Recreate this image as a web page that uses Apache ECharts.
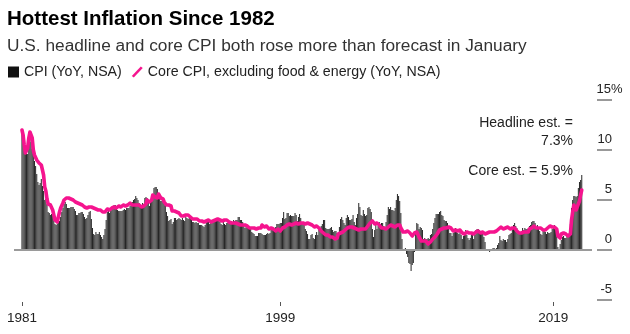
<!DOCTYPE html>
<html>
<head>
<meta charset="utf-8">
<title>Hottest Inflation Since 1982</title>
<script src="https://cdn.jsdelivr.net/npm/echarts@6/dist/echarts.min.js"></script>
<style>
  html, body { margin: 0; padding: 0; background: #fff; }
  #chart { width: 630px; height: 334px; }
</style>
</head>
<body>
<div id="chart"></div>
<script>
// Monthly series start in January of this year
const startYear = 1981;

// CPI, year-over-year % change (not seasonally adjusted), Jan 1981 .. Jan 2022
const cpiYoY = [
  11.8, 11.4, 10.5, 10.0, 9.8, 9.6, 10.8, 10.8, 11.0, 10.1, 9.6, 8.9,   // 1981
  8.4, 7.6, 6.8, 6.5, 6.7, 7.1, 6.4, 5.9, 5.0, 5.1, 4.6, 3.8,           // 1982
  3.7, 3.5, 3.6, 3.9, 3.5, 2.6, 2.5, 2.6, 2.9, 2.9, 3.3, 3.8,           // 1983
  4.2, 4.6, 4.8, 4.6, 4.2, 4.2, 4.2, 4.3, 4.3, 4.3, 4.1, 3.9,           // 1984
  3.5, 3.5, 3.7, 3.7, 3.8, 3.8, 3.6, 3.3, 3.1, 3.2, 3.5, 3.8,           // 1985
  3.9, 3.1, 2.2, 1.6, 1.5, 1.8, 1.6, 1.6, 1.8, 1.5, 1.3, 1.1,           // 1986
  1.5, 2.1, 3.0, 3.8, 3.9, 3.7, 3.9, 4.3, 4.4, 4.5, 4.5, 4.4,           // 1987
  4.0, 3.9, 3.9, 3.9, 3.9, 4.0, 4.1, 4.0, 4.2, 4.2, 4.2, 4.4,           // 1988
  4.7, 4.8, 5.0, 5.1, 5.4, 5.2, 5.0, 4.7, 4.3, 4.5, 4.7, 4.6,           // 1989
  5.2, 5.3, 5.2, 4.7, 4.4, 4.7, 4.8, 5.6, 6.2, 6.3, 6.3, 6.1,           // 1990
  5.7, 5.3, 4.9, 4.9, 5.0, 4.7, 4.4, 3.8, 3.4, 2.9, 3.0, 3.1,           // 1991
  2.6, 2.8, 3.2, 3.2, 3.0, 3.1, 3.2, 3.1, 3.0, 3.2, 3.0, 2.9,           // 1992
  3.3, 3.2, 3.1, 3.2, 3.2, 3.0, 2.8, 2.8, 2.7, 2.8, 2.7, 2.7,           // 1993
  2.5, 2.5, 2.5, 2.4, 2.3, 2.5, 2.8, 2.9, 3.0, 2.6, 2.7, 2.7,           // 1994
  2.8, 2.9, 2.9, 3.1, 3.2, 3.0, 2.8, 2.6, 2.5, 2.8, 2.6, 2.5,           // 1995
  2.7, 2.7, 2.8, 2.9, 2.9, 2.8, 3.0, 2.9, 3.0, 3.0, 3.3, 3.3,           // 1996
  3.0, 3.0, 2.8, 2.5, 2.2, 2.3, 2.2, 2.2, 2.2, 2.1, 1.8, 1.7,           // 1997
  1.6, 1.4, 1.4, 1.4, 1.7, 1.7, 1.7, 1.6, 1.5, 1.5, 1.5, 1.6,           // 1998
  1.7, 1.6, 1.7, 2.3, 2.1, 2.0, 2.1, 2.3, 2.6, 2.6, 2.6, 2.7,           // 1999
  2.7, 3.2, 3.8, 3.1, 3.2, 3.7, 3.7, 3.4, 3.5, 3.4, 3.4, 3.4,           // 2000
  3.7, 3.5, 2.9, 3.3, 3.6, 3.2, 2.7, 2.7, 2.6, 2.1, 1.9, 1.6,           // 2001
  1.1, 1.1, 1.5, 1.6, 1.2, 1.1, 1.5, 1.8, 1.5, 2.0, 2.2, 2.4,           // 2002
  2.6, 3.0, 3.0, 2.2, 2.1, 2.1, 2.1, 2.2, 2.3, 2.0, 1.8, 1.9,           // 2003
  1.9, 1.7, 1.7, 2.3, 3.1, 3.3, 3.0, 2.7, 2.5, 3.2, 3.5, 3.3,           // 2004
  3.0, 3.0, 3.1, 3.5, 2.8, 2.5, 3.2, 3.6, 4.7, 4.3, 3.5, 3.4,           // 2005
  4.0, 3.6, 3.4, 3.5, 4.2, 4.3, 4.1, 3.8, 2.1, 1.3, 2.0, 2.5,           // 2006
  2.1, 2.4, 2.8, 2.6, 2.7, 2.7, 2.4, 2.0, 2.8, 3.5, 4.3, 4.1,           // 2007
  4.3, 4.0, 4.0, 3.9, 4.2, 5.0, 5.6, 5.4, 4.9, 3.7, 1.1, 0.1,           // 2008
  0.0, 0.2, -0.4, -0.7, -1.3, -1.4, -2.1, -1.5, -1.3, -0.2, 1.8, 2.7,   // 2009
  2.6, 2.1, 2.3, 2.2, 2.0, 1.1, 1.2, 1.1, 1.1, 1.2, 1.1, 1.5,           // 2010
  1.6, 2.1, 2.7, 3.2, 3.6, 3.6, 3.6, 3.8, 3.9, 3.5, 3.4, 3.0,           // 2011
  2.9, 2.9, 2.7, 2.3, 1.7, 1.7, 1.4, 1.7, 2.0, 2.2, 1.8, 1.7,           // 2012
  1.6, 2.0, 1.5, 1.1, 1.4, 1.8, 2.0, 1.5, 1.2, 1.0, 1.2, 1.5,           // 2013
  1.6, 1.1, 1.5, 2.0, 2.1, 2.1, 2.0, 1.7, 1.7, 1.7, 1.3, 0.8,           // 2014
  -0.1, 0.0, -0.1, -0.2, 0.0, 0.1, 0.2, 0.2, 0.0, 0.2, 0.5, 0.7,        // 2015
  1.4, 1.0, 0.9, 1.1, 1.0, 1.0, 0.8, 1.1, 1.5, 1.6, 1.7, 2.1,           // 2016
  2.5, 2.7, 2.4, 2.2, 1.9, 1.6, 1.7, 1.9, 2.2, 2.0, 2.2, 2.1,           // 2017
  2.1, 2.2, 2.4, 2.5, 2.8, 2.9, 2.9, 2.7, 2.3, 2.5, 2.2, 1.9,           // 2018
  1.6, 1.5, 1.9, 2.0, 1.8, 1.6, 1.8, 1.7, 1.7, 1.8, 2.1, 2.3,           // 2019
  2.5, 2.3, 1.5, 0.3, 0.1, 0.6, 1.0, 1.3, 1.4, 1.2, 1.2, 1.4,           // 2020
  1.4, 1.7, 2.6, 4.2, 5.0, 5.4, 5.4, 5.3, 5.4, 6.2, 6.8, 7.0,           // 2021
  7.5                                                                   // 2022
];

// Core CPI (excluding food & energy), year-over-year % change, same months
const coreYoY = [
  12.0, 11.5, 10.5, 9.7, 9.5, 10.2, 11.2, 11.8, 12.0, 11.2, 10.0, 9.5,  // 1981
  9.3, 9.0, 8.8, 8.7, 8.6, 8.5, 8.0, 7.5, 6.3, 5.9, 5.1, 4.6,           // 1982
  4.6, 4.5, 4.4, 4.0, 3.5, 3.0, 2.9, 2.8, 3.3, 3.8, 4.2, 4.3,           // 1983
  4.7, 5.0, 5.1, 5.2, 5.3, 5.2, 5.1, 5.1, 5.1, 5.0, 4.8, 4.8,           // 1984
  4.7, 4.7, 4.6, 4.6, 4.6, 4.5, 4.4, 4.3, 4.3, 4.2, 4.4, 4.3,           // 1985
  4.4, 4.3, 4.2, 4.2, 4.0, 4.1, 4.1, 4.0, 4.1, 4.0, 3.9, 3.8,           // 1986
  3.8, 3.8, 4.0, 4.1, 4.0, 4.0, 4.0, 4.2, 4.2, 4.3, 4.2, 4.2,           // 1987
  4.3, 4.4, 4.5, 4.3, 4.4, 4.5, 4.4, 4.4, 4.5, 4.5, 4.6, 4.7,           // 1988
  4.5, 4.5, 4.4, 4.5, 4.5, 4.5, 4.6, 4.5, 4.4, 4.3, 4.4, 4.4,           // 1989
  4.4, 4.6, 5.0, 5.0, 4.8, 5.0, 5.0, 5.5, 5.5, 5.3, 5.3, 5.2,           // 1990
  5.6, 5.6, 5.2, 5.1, 5.1, 4.8, 4.6, 4.5, 4.5, 4.5, 4.5, 4.4,           // 1991
  3.9, 3.8, 3.9, 3.9, 3.8, 3.8, 3.7, 3.6, 3.4, 3.5, 3.4, 3.3,           // 1992
  3.5, 3.4, 3.5, 3.4, 3.3, 3.2, 3.1, 3.2, 3.1, 3.0, 3.1, 3.2,           // 1993
  2.9, 2.8, 2.9, 2.8, 2.8, 2.9, 2.9, 2.9, 3.0, 2.9, 2.8, 2.6,           // 1994
  2.9, 3.0, 3.0, 3.1, 3.1, 3.0, 3.0, 2.9, 2.9, 3.0, 3.0, 3.0,           // 1995
  3.0, 2.9, 2.8, 2.7, 2.7, 2.7, 2.7, 2.6, 2.7, 2.6, 2.6, 2.6,           // 1996
  2.5, 2.5, 2.5, 2.7, 2.5, 2.4, 2.4, 2.3, 2.2, 2.3, 2.2, 2.2,           // 1997
  2.2, 2.3, 2.1, 2.1, 2.2, 2.2, 2.2, 2.5, 2.5, 2.3, 2.3, 2.4,           // 1998
  2.4, 2.1, 2.1, 2.2, 2.0, 2.1, 2.1, 1.9, 2.0, 2.1, 2.1, 1.9,           // 1999
  2.0, 2.2, 2.4, 2.3, 2.4, 2.5, 2.5, 2.6, 2.6, 2.5, 2.6, 2.6,           // 2000
  2.6, 2.7, 2.7, 2.6, 2.5, 2.7, 2.7, 2.7, 2.6, 2.6, 2.8, 2.7,           // 2001
  2.6, 2.6, 2.4, 2.5, 2.5, 2.3, 2.2, 2.4, 2.2, 2.2, 2.0, 1.9,           // 2002
  1.9, 1.7, 1.7, 1.5, 1.6, 1.5, 1.5, 1.3, 1.2, 1.3, 1.1, 1.1,           // 2003
  1.1, 1.2, 1.6, 1.8, 1.7, 1.9, 1.8, 1.7, 2.0, 2.0, 2.2, 2.2,           // 2004
  2.3, 2.4, 2.3, 2.2, 2.2, 2.0, 2.1, 2.1, 2.0, 2.1, 2.1, 2.2,           // 2005
  2.1, 2.1, 2.1, 2.3, 2.4, 2.6, 2.7, 2.8, 2.9, 2.7, 2.6, 2.6,           // 2006
  2.7, 2.7, 2.5, 2.3, 2.2, 2.2, 2.2, 2.1, 2.1, 2.2, 2.3, 2.4,           // 2007
  2.5, 2.3, 2.4, 2.3, 2.3, 2.4, 2.5, 2.5, 2.5, 2.2, 2.0, 1.8,           // 2008
  1.7, 1.8, 1.8, 1.9, 1.8, 1.7, 1.5, 1.4, 1.5, 1.7, 1.7, 1.8,           // 2009
  1.6, 1.3, 1.1, 0.9, 0.9, 0.9, 0.9, 0.9, 0.8, 0.6, 0.8, 0.8,           // 2010
  1.0, 1.1, 1.2, 1.3, 1.5, 1.6, 1.8, 2.0, 2.0, 2.1, 2.2, 2.2,           // 2011
  2.3, 2.2, 2.3, 2.3, 2.3, 2.2, 2.1, 1.9, 2.0, 2.0, 1.9, 1.9,           // 2012
  1.9, 2.0, 1.9, 1.7, 1.7, 1.6, 1.7, 1.8, 1.7, 1.7, 1.7, 1.7,           // 2013
  1.6, 1.6, 1.7, 1.8, 2.0, 1.9, 1.9, 1.7, 1.7, 1.8, 1.7, 1.6,           // 2014
  1.6, 1.7, 1.8, 1.8, 1.7, 1.8, 1.8, 1.8, 1.9, 1.9, 2.0, 2.1,           // 2015
  2.2, 2.3, 2.2, 2.1, 2.2, 2.2, 2.2, 2.3, 2.2, 2.1, 2.1, 2.2,           // 2016
  2.3, 2.2, 2.0, 1.9, 1.7, 1.7, 1.7, 1.7, 1.7, 1.8, 1.7, 1.8,           // 2017
  1.8, 1.8, 2.1, 2.1, 2.2, 2.3, 2.4, 2.2, 2.2, 2.1, 2.2, 2.2,           // 2018
  2.2, 2.1, 2.0, 2.1, 2.0, 2.1, 2.2, 2.4, 2.4, 2.3, 2.3, 2.3,           // 2019
  2.3, 2.4, 2.1, 1.4, 1.2, 1.2, 1.6, 1.7, 1.7, 1.6, 1.6, 1.6,           // 2020
  1.4, 1.3, 1.6, 3.0, 3.8, 4.5, 4.3, 4.0, 4.0, 4.6, 4.9, 5.5,           // 2021
  6.0                                                                   // 2022
];

// Bottom axis: the month each year label sits on ('YYYY-MM'), and the label text
const xTickMonths = ['1981-01', '1999-12', '2019-12'];
const xTickLabels = ['1981', '1999', '2019'];

// Right axis ticks
const yTicks = [-5, 0, 5, 10, 15];

// Forecast notes written beside the latest readings
const estimateNotes = ['Headline est. =', '7.3%', 'Core est. = 5.9%'];

const seriesNames = ['CPI (YoY, NSA)', 'Core CPI, excluding food & energy (YoY, NSA)'];

const FONT = '"Liberation Sans", Arial, Helvetica, sans-serif';
const PINK = '#f5148e';

// The x axis counts months from January of startYear
const monthIndex = (ym) => {
  const [y, m] = ym.split('-').map(Number);
  return (y - startYear) * 12 + (m - 1);
};
const cpiData = cpiYoY.map((v, i) => [i, v]);
const coreData = coreYoY.map((v, i) => [i, v]);
const xTickIdx = xTickMonths.map(monthIndex);

const chart = echarts.init(document.getElementById('chart'), null, { renderer: 'canvas' });

chart.setOption({
  animation: false,
  backgroundColor: '#fff',
  textStyle: { fontFamily: FONT },
  title: [
    {
      text: 'Hottest Inflation Since 1982',
      left: 2, top: 4,
      textStyle: { fontFamily: FONT, fontSize: 20.5, fontWeight: 'bold', color: '#000' }
    },
    {
      text: 'U.S. headline and core CPI both rose more than forecast in January',
      left: 2, top: 33,
      textStyle: { fontFamily: FONT, fontSize: 17.3, fontWeight: 'normal', color: '#333' }
    }
  ],
  legend: {
    left: 3, top: 60,
    itemWidth: 11, itemHeight: 11, itemGap: 10,
    selectedMode: false,
    textStyle: { fontFamily: FONT, fontSize: 14.2, color: '#222' },
    data: [
      { name: seriesNames[0], icon: 'rect', itemStyle: { color: '#111' } },
      { name: seriesNames[1], icon: 'path://M9,0 L11,1.6 L2,11 L0,9.4 Z', itemStyle: { color: PINK } }
    ]
  },
  grid: { left: 14, right: 38, top: 100, bottom: 34, outerBoundsMode: 'none' },
  xAxis: {
    type: 'value',
    min: -7,
    max: cpiYoY.length + 8,
    offset: 2,
    axisLine: { show: false, onZero: false },
    splitLine: { show: false },
    axisTick: {
      show: true, length: 4, customValues: xTickIdx,
      lineStyle: { color: '#555', width: 1 }
    },
    axisLabel: {
      customValues: xTickIdx,
      margin: 9,
      fontFamily: FONT, fontSize: 13.5, color: '#222',
      formatter: (v) => {
        const k = xTickIdx.indexOf(Math.round(v));
        return k >= 0 ? xTickLabels[k] : '';
      }
    }
  },
  yAxis: {
    type: 'value',
    position: 'right',
    offset: 5,
    min: yTicks[0], max: yTicks[yTicks.length - 1], interval: 5,
    splitLine: { show: false },
    axisLine: { show: false, onZero: false },
    axisTick: { show: true, length: 15, lineStyle: { color: '#999', width: 2 } },
    axisLabel: {
      margin: 15,
      align: 'right',
      verticalAlign: 'bottom',
      padding: [0, 0, 4, 0],
      fontFamily: FONT, fontSize: 13, color: '#222',
      // the top label carries the unit, hung just past the number column
      formatter: (v) => v === yTicks[yTicks.length - 1] ? '{n|' + v + '}{p|%}' : '{n|' + v + '}',
      rich: {
        n: { fontFamily: FONT, fontSize: 13, color: '#222', align: 'left' },
        p: { fontFamily: FONT, fontSize: 13, color: '#222', width: 1, align: 'left' }
      }
    }
  },
  series: [
    {
      name: seriesNames[0],
      type: 'bar',
      data: cpiData,
      barWidth: 1,
      itemStyle: { color: '#262626' },
      emphasis: { disabled: true },
      markLine: {
        silent: true,
        symbol: 'none',
        label: { show: false },
        lineStyle: { color: '#9a9a9a', width: 2, type: 'solid' },
        data: [{ yAxis: 0 }]
      }
    },
    {
      name: seriesNames[1],
      type: 'line',
      data: coreData,
      showSymbol: false,
      symbol: 'none',
      z: 5,
      lineStyle: { color: PINK, width: 3.6, join: 'round', cap: 'round' },
      itemStyle: { color: PINK },
      emphasis: { disabled: true }
    }
  ],
  graphic: [
    { type: 'text', x: 573, y: 123, style: { text: estimateNotes[0], align: 'right', verticalAlign: 'middle', fontFamily: FONT, fontSize: 14, fill: '#222' } },
    { type: 'text', x: 573, y: 141, style: { text: estimateNotes[1], align: 'right', verticalAlign: 'middle', fontFamily: FONT, fontSize: 14, fill: '#222' } },
    { type: 'text', x: 573, y: 171, style: { text: estimateNotes[2], align: 'right', verticalAlign: 'middle', fontFamily: FONT, fontSize: 14, fill: '#222' } }
  ]
});
</script>
</body>
</html>
